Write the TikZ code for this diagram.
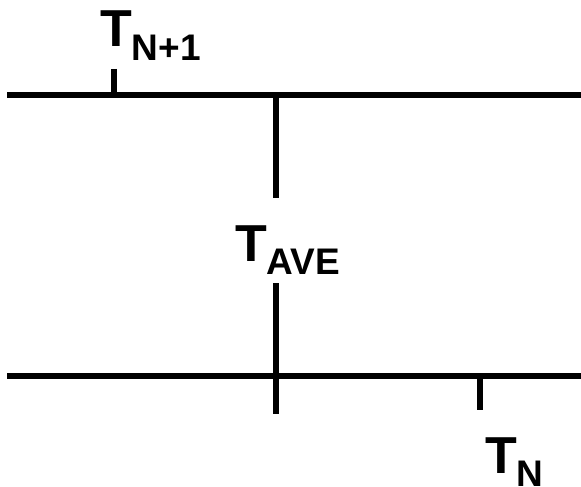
\documentclass[tikz,border=0pt]{standalone}
\usepackage{fontspec}
\setmainfont{Liberation Sans}
\tikzset{
  rule/.style={line width=6pt, line cap=butt},
  lbl/.style={inner sep=0pt, outer sep=0pt, anchor=base west, font=\bfseries\fontsize{52}{52}\selectfont},
}
\newcommand{\subtxt}[1]{\raisebox{-13.5pt}{\fontsize{37}{37}\selectfont #1}}
\begin{document}
\begin{tikzpicture}[x=1pt,y=-1pt]
\useasboundingbox (0,0) rectangle (581,487);
% top line
\coordinate (tl) at (7,94.5);
\coordinate (tr) at (581,94.5);
\draw[rule] (tl) -- (tr);
% bottom line
\coordinate (bl) at (7,376);
\coordinate (br) at (581,376);
\draw[rule] (bl) -- (br);
% vertical centre line
\coordinate (vtop) at (276,94.5);
\coordinate (vgapA) at (276,198);
\coordinate (vgapB) at (276,283);
\coordinate (vbot) at (276,414);
\draw[rule] (vtop) -- (vgapA);
\draw[rule] (vgapB) -- (vbot);
% ticks
\coordinate (t1a) at (113.5,69);
\coordinate (t1b) at (113.5,94.5);
\draw[rule] (t1a) -- (t1b);
\coordinate (t2a) at (480,376);
\coordinate (t2b) at (480,410);
\draw[rule] (t2a) -- (t2b);
% labels
\node[lbl] (tn1) at (100,47) {T\subtxt{N+1}};
\node[lbl] (tave) at (235,261) {T\subtxt{AVE}};
\node[lbl] (tn) at (485,473) {T\subtxt{N}};
\end{tikzpicture}
\end{document}
